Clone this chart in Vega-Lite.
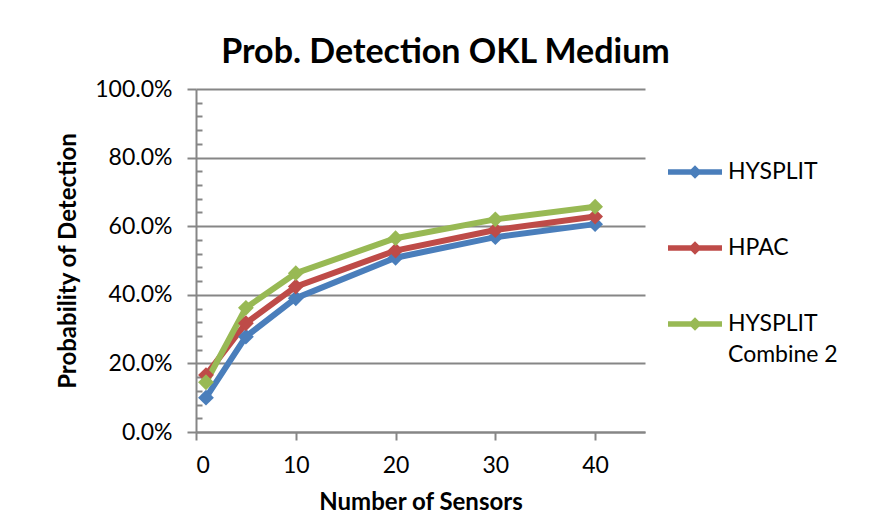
{
  "$schema": "https://vega.github.io/schema/vega-lite/v6.json",
  "width": 449,
  "height": 343,
  "autosize": "none",
  "padding": {"left": 196, "top": 89, "right": 227, "bottom": 87},
  "background": "white",
  "config": {"font": "Lato", "view": {"stroke": null}},
  "title": {
    "text": "Prob. Detection OKL Medium",
    "fontSize": 34,
    "fontWeight": "bold",
    "color": "black",
    "anchor": "middle",
    "dx": 25,
    "offset": 8
  },
  "data": {
    "values": [
      {"series": "HYSPLIT", "sensors": 1, "pd": 0.100},
      {"series": "HYSPLIT", "sensors": 5, "pd": 0.278},
      {"series": "HYSPLIT", "sensors": 10, "pd": 0.390},
      {"series": "HYSPLIT", "sensors": 20, "pd": 0.508},
      {"series": "HYSPLIT", "sensors": 30, "pd": 0.568},
      {"series": "HYSPLIT", "sensors": 40, "pd": 0.606},
      {"series": "HPAC", "sensors": 1, "pd": 0.166},
      {"series": "HPAC", "sensors": 5, "pd": 0.317},
      {"series": "HPAC", "sensors": 10, "pd": 0.424},
      {"series": "HPAC", "sensors": 20, "pd": 0.529},
      {"series": "HPAC", "sensors": 30, "pd": 0.589},
      {"series": "HPAC", "sensors": 40, "pd": 0.628},
      {"series": "HYSPLIT Combine 2", "sensors": 1, "pd": 0.145},
      {"series": "HYSPLIT Combine 2", "sensors": 5, "pd": 0.362},
      {"series": "HYSPLIT Combine 2", "sensors": 10, "pd": 0.463},
      {"series": "HYSPLIT Combine 2", "sensors": 20, "pd": 0.565},
      {"series": "HYSPLIT Combine 2", "sensors": 30, "pd": 0.620},
      {"series": "HYSPLIT Combine 2", "sensors": 40, "pd": 0.657}
    ]
  },
  "layer": [
    {
      "mark": {
        "type": "line",
        "strokeWidth": 6,
        "point": {"shape": "diamond", "filled": true, "size": 250, "opacity": 1}
      },
      "encoding": {
        "x": {
          "field": "sensors",
          "type": "quantitative",
          "scale": {"domain": [0, 45], "nice": false, "zero": false},
          "axis": {
            "values": [0, 10, 20, 30, 40],
            "grid": false,
            "domainColor": "#868686",
            "domainWidth": 2,
            "tickColor": "#868686",
            "tickWidth": 2,
            "tickSize": 8,
            "labelFontSize": 23,
            "labelColor": "black",
            "labelPadding": 14,
            "title": "Number of Sensors",
            "titleFontSize": 24,
            "titleFontWeight": "bold",
            "titleColor": "black",
            "titlePadding": 13
          }
        },
        "y": {
          "field": "pd",
          "type": "quantitative",
          "scale": {"domain": [0, 1], "nice": false},
          "axis": {
            "values": [0, 0.2, 0.4, 0.6, 0.8, 1],
            "format": ".1%",
            "grid": true,
            "gridColor": "#868686",
            "gridWidth": 2,
            "domainColor": "#868686",
            "domainWidth": 2,
            "tickColor": "#868686",
            "tickWidth": 2,
            "tickSize": 9,
            "labelFontSize": 23,
            "labelColor": "black",
            "labelPadding": 15,
            "title": "Probability of Detection",
            "titleFontSize": 24,
            "titleFontWeight": "bold",
            "titleColor": "black",
            "titlePadding": 14
          }
        },
        "color": {
          "field": "series",
          "type": "nominal",
          "scale": {
            "domain": ["HYSPLIT", "HPAC", "HYSPLIT Combine 2"],
            "range": ["#4A7EBB", "#BE4B48", "#98B954"]
          },
          "legend": {
            "orient": "none",
            "legendX": 472,
            "legendY": 56,
            "title": null,
            "labelFontSize": 23,
            "labelColor": "black",
            "labelOffset": 6,
            "labelLimit": 200,
            "labelExpr": "datum.label == 'HYSPLIT Combine 2' ? ['HYSPLIT', 'Combine 2'] : datum.label",
            "symbolType": "M-1,-0.1H1V0.1H-1Z M0,-0.25L0.25,0L0,0.25L-0.25,0Z",
            "symbolSize": 2916,
            "symbolStrokeWidth": 0,
            "rowPadding": 37,
            "encode": {
              "symbols": {"update": {"fill": {"scale": "color", "field": "value"}, "fillOpacity": {"value": 1}}},
              "labels": {"update": {"lineHeight": {"value": 31}}}
            }
          }
        }
      }
    },
    {
      "mark": {"type": "tick", "opacity": 0},
      "encoding": {
        "y": {
          "field": "pd",
          "type": "quantitative",
          "axis": {
            "orient": "left",
            "values": [0.04, 0.08, 0.12, 0.16, 0.24, 0.28, 0.32, 0.36, 0.44, 0.48, 0.52, 0.56, 0.64, 0.68, 0.72, 0.76, 0.84, 0.88, 0.92, 0.96],
            "labels": false,
            "domain": false,
            "grid": false,
            "title": null,
            "tickColor": "#868686",
            "tickWidth": 2,
            "tickSize": -6
          }
        }
      }
    }
  ],
  "resolve": {"axis": {"y": "independent"}}
}
